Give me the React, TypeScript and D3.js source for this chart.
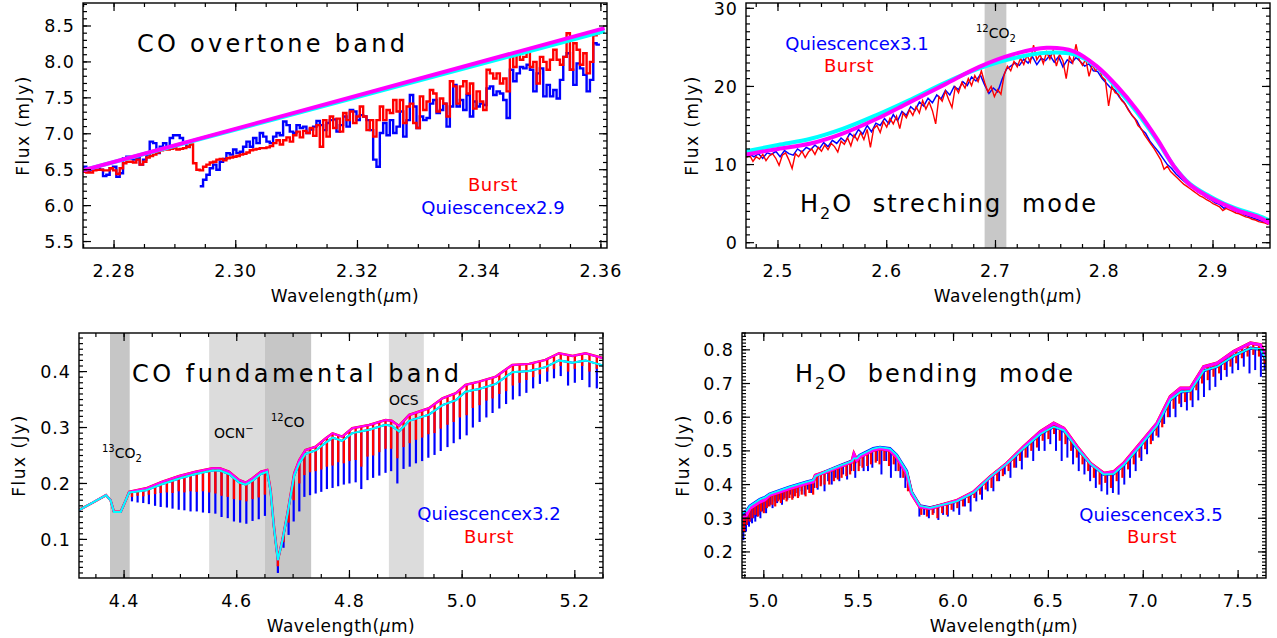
import React from "react";
import * as d3 from "d3";

const FONT = "'DejaVu Sans', sans-serif";
const RED = "#ff0000";
const BLUE = "#0000ff";
const CYAN = "#00ffff";
const MAGENTA = "#ff00ff";

// ---------------- Panel 1: CO overtone band (step spectra) ----------------
const p1BinStart = 2.2749;
const p1BinWidth = 0.000548;
const p1Quiescence: (number | null)[] = [
  6.54, 6.47, 6.5, 6.5, 6.54, 6.5, 6.41, 6.43, 6.52, 6.54,
  6.4, 6.45, 6.66, 6.68, 6.65, 6.64, 6.66, 6.57, 6.64, 6.71,
  6.89, 6.87, 6.73, 6.82, 6.87, 6.8, 6.94, 6.98, 6.98, 6.94,
  6.87, 6.82, 6.8, null, null, 6.27, 6.36, 6.43, 6.52, 6.57,
  6.5, 6.61, 6.65, 6.73, 6.71, 6.78, 6.73, 6.75, 6.82, 6.89,
  6.82, 6.94, 6.87, 7.01, 6.96, 6.89, 6.87, 6.96, 7.01, 6.98,
  7.17, 7.12, 7.03, 7.01, 7.12, 7.08, 7.1, 7.01, 7.06, 7.1,
  7.18, 7.12, 7.05, 7.15, 7.19, 7.2, 7.03, 7.12,
  7.24, 7.1, 7.33, 7.31, 7.19, 7.26, 7.24, 7.19, 7.05, 6.64,
  6.54, 7.01, 7.15, 6.98, 7.19, 7.01, 7.1, 7.31, 6.96, 7.19,
  7.54, 7.38, 7.08, 7.24, 7.19, 7.22, 7.42, 7.47, 7.29, 7.33,
  7.42, 7.1, 7.38, 7.68, 7.38, 7.47, 7.33, 7.54, 7.24, 7.45,
  7.38, 7.42, 7.4, 7.63, 7.66, 7.54, 7.59, 7.56, 7.47, 7.22,
  7.89, 7.73, 7.84, 7.93, 7.91, 7.96, 7.89, 7.59, 7.84, 7.91,
  7.52, 7.68, 7.52, 7.61, 7.49, 7.75, 8.07, 8.12, 7.89, 7.68,
  7.98, 7.91, 7.82, 7.59, 7.75, 8.26, 8.24,
];
const p1Burst: number[] = [
  6.47, 6.46, 6.46, 6.49, 6.5, 6.5, 6.49, 6.49, 6.52, 6.49,
  6.44, 6.52, 6.59, 6.61, 6.61, 6.6, 6.64, 6.57, 6.61, 6.67,
  6.69, 6.71, 6.74, 6.77, 6.79, 6.78, 6.79, 6.8, 6.78, 6.79,
  6.8, 6.82, 6.85, 6.59, 6.5, 6.49, 6.54, 6.57, 6.6, 6.61,
  6.64, 6.65, 6.63, 6.66, 6.67, 6.68, 6.69, 6.71, 6.72, 6.74,
  6.77, 6.78, 6.79, 6.8, 6.8, 6.81, 6.83, 6.87, 6.91, 6.85,
  6.91, 6.95, 6.89, 6.98, 7.03, 6.95, 7.04, 7.01, 7.08, 6.97,
  7.12, 6.82, 7.19, 6.96, 7.24, 7.08, 7.21, 7.03,
  7.29, 7.19, 7.31, 7.15, 7.24, 7.38, 7.24, 7.05, 7.19, 6.96,
  7.19, 7.38, 7.19, 7.33, 7.29, 7.47, 7.31, 7.47, 7.15, 7.38,
  7.42, 7.15, 7.08, 7.52, 7.33, 7.45, 7.61, 7.56, 7.31, 7.49,
  7.42, 7.24, 7.73, 7.66, 7.42, 7.66, 7.73, 7.56, 7.7, 7.35,
  7.59, 7.45, 7.33, 7.89, 7.84, 7.77, 7.84, 7.7, 7.77, 7.59,
  8.07, 7.93, 8.12, 8.03, 8.07, 8.14, 7.93, 8.0, 7.7, 8.07,
  8.0, 7.89, 8.03, 8.17, 8.03, 7.96, 8.07, 8.4, 7.89, 8.26,
  8.17, 7.96, 8.12, 7.84, 8.0, 8.37, 8.4,
];
const p1ContWl = [2.2749, 2.3606];
const p1ContCyan = [6.49, 8.43];
const p1ContMagenta = [6.49, 8.47];
const p1XTicks = [2.28, 2.3, 2.32, 2.34, 2.36];
const p1XLabels = ["2.28", "2.30", "2.32", "2.34", "2.36"];
const p1YTicks = [5.5, 6.0, 6.5, 7.0, 7.5, 8.0, 8.5];
const p1YLabels = ["5.5", "6.0", "6.5", "7.0", "7.5", "8.0", "8.5"];

// ---------------- Panel 2: H2O stretching mode ----------------
const p2BurstStart = 2.471;
const p2BurstStep = 0.003;
const p2QuiesStart = 2.474;
const p2QuiesStep = 0.004;
const p2Burst = [
  10.9, 11.2, 10.4, 11.0, 10.7, 11.3, 10.5, 11.1, 11.4, 10.8,
  9.9, 11.2, 11.5, 10.6, 9.5, 11.4, 11.0, 11.7, 10.9, 11.6,
  12.0, 11.3, 12.2, 11.7, 12.5, 11.9, 12.7, 12.3, 11.6, 13.0,
  12.6, 13.4, 12.4, 13.8, 13.1, 14.1, 13.2, 14.5, 12.2, 14.6,
  15.0, 14.1, 15.5, 14.8, 15.9, 15.2, 16.2, 14.6, 16.6, 16.0,
  17.0, 16.3, 17.4, 16.6, 18.2, 17.1, 18.0, 16.9, 15.2, 18.7,
  18.1, 19.4, 18.3, 17.3, 19.9, 19.2, 20.5, 19.8, 21.0, 20.1,
  21.4, 20.6, 22.0, 20.5, 19.3, 20.0, 18.7, 19.6, 19.0, 21.5,
  22.6, 22.0, 23.2, 22.5, 23.6, 22.8, 24.0, 23.1, 25.3, 23.4,
  24.1, 22.9, 24.4, 23.5, 24.6, 22.6, 24.1, 23.3, 21.0, 23.8,
  23.0, 25.4, 23.4, 22.7, 23.5, 21.3, 22.8, 22.0, 22.4, 21.2,
  20.8, 17.5, 20.0, 19.2, 19.0, 18.2, 17.8, 17.0, 16.4, 15.9,
  15.0, 14.6, 13.8, 13.2, 12.6, 12.0, 11.3, 10.6, 9.4, 9.8,
  9.1, 8.7, 8.3, 7.9, 7.5, 7.2, 6.9, 6.6, 6.3, 6.0,
  5.8, 5.5, 5.3, 5.0, 4.8, 4.6, 4.1, 4.4, 4.2, 4.0,
  3.8, 3.7, 3.5, 3.3, 3.2, 3.0, 2.9, 2.7, 2.6, 2.5,
  2.3,
];
const p2Quiescence = [
  11.3, 11.0, 11.4, 10.8, 11.5, 11.3, 11.7, 11.0, 11.8, 11.4,
  11.2, 12.0, 11.6, 12.2, 11.9, 12.5, 12.0, 12.8, 12.3, 13.1,
  12.7, 13.4, 12.9, 14.0, 13.5, 14.5, 13.9, 15.0, 14.2, 15.3,
  15.0, 15.9, 15.2, 16.4, 15.6, 16.8, 16.3, 17.4, 16.9, 18.0,
  17.5, 18.5, 17.9, 18.9, 18.4, 19.5, 18.9, 20.0, 19.6, 20.6,
  20.1, 21.2, 20.7, 21.5, 20.2, 19.1, 19.8, 19.3, 20.9, 22.2,
  22.6, 23.0, 22.7, 23.5, 23.0, 23.8, 22.8, 23.6, 23.3, 24.0,
  23.1, 23.8, 22.5, 23.4, 23.0, 23.7, 23.2, 22.6, 22.9, 22.0,
  21.9, 21.0, 20.4, 19.8, 19.5, 18.6, 18.0, 17.1, 16.2, 15.6,
  14.5, 14.0, 13.0, 12.3, 11.6, 10.8, 10.0, 9.5, 8.8, 8.3,
  7.8, 7.3, 7.0, 6.5, 6.2, 5.8, 5.5, 5.1, 4.9, 4.4,
  4.6, 4.2, 4.0, 3.8, 3.5, 3.3, 3.1, 2.9, 2.7, 2.5,
];
const p2ContWl = [2.4706, 2.5, 2.53, 2.56, 2.59, 2.62, 2.654, 2.685, 2.716, 2.747, 2.772, 2.793, 2.812, 2.83, 2.849, 2.864, 2.879, 2.895, 2.91, 2.925, 2.941, 2.9524];
const p2ContMagenta = [11.3, 12.0, 12.7, 14.0, 15.8, 17.9, 20.3, 22.5, 24.1, 24.95, 24.5, 22.6, 20.0, 17.0, 13.2, 9.8, 7.4, 5.95, 4.9, 4.0, 3.3, 2.5];
const p2ContCyan = [11.7, 12.5, 13.3, 14.6, 16.3, 18.2, 20.5, 22.3, 23.6, 24.3, 24.1, 22.5, 19.7, 16.7, 13.0, 9.8, 7.5, 6.1, 5.0, 4.2, 3.5, 2.8];
const p2Band = [2.69, 2.71];
const p2XTicks = [2.5, 2.6, 2.7, 2.8, 2.9];
const p2XLabels = ["2.5", "2.6", "2.7", "2.8", "2.9"];
const p2YTicks = [0, 10, 20, 30];
const p2YLabels = ["0", "10", "20", "30"];

// ---------------- Panel 3: CO fundamental band ----------------
const p3ContWl = [4.32, 4.345, 4.368, 4.376, 4.382, 4.394, 4.403, 4.409, 4.42, 4.439, 4.468, 4.498, 4.527, 4.557, 4.57, 4.586, 4.604, 4.616, 4.628, 4.643, 4.654, 4.66, 4.666, 4.673, 4.681, 4.69, 4.702, 4.711, 4.722, 4.74, 4.758, 4.77, 4.787, 4.805, 4.835, 4.864, 4.875, 4.888, 4.906, 4.941, 4.965, 4.989, 5.006, 5.03, 5.06, 5.089, 5.119, 5.148, 5.172, 5.196, 5.219, 5.25];
const p3ContMagenta = [0.1525, 0.166, 0.1793, 0.17, 0.1494, 0.1494, 0.17, 0.1852, 0.1875, 0.1913, 0.2031, 0.2133, 0.221, 0.227, 0.227, 0.221, 0.2062, 0.2014, 0.2092, 0.221, 0.224, 0.1883, 0.1226, 0.063, 0.0988, 0.1465, 0.2181, 0.242, 0.2598, 0.2658, 0.2807, 0.2897, 0.2837, 0.2987, 0.3046, 0.3135, 0.312, 0.3028, 0.3225, 0.3344, 0.3523, 0.3613, 0.3762, 0.3821, 0.391, 0.412, 0.4138, 0.4209, 0.4329, 0.4281, 0.4329, 0.424];
const p3ContCyan = [0.1525, 0.166, 0.179, 0.17, 0.149, 0.149, 0.17, 0.184, 0.185, 0.188, 0.199, 0.209, 0.217, 0.223, 0.223, 0.217, 0.202, 0.198, 0.205, 0.217, 0.221, 0.186, 0.121, 0.063, 0.098, 0.145, 0.214, 0.236, 0.253, 0.259, 0.273, 0.282, 0.276, 0.29, 0.296, 0.305, 0.303, 0.293, 0.312, 0.323, 0.34, 0.349, 0.364, 0.369, 0.378, 0.399, 0.401, 0.408, 0.42, 0.416, 0.42, 0.411];
const p3LineWl = [
  4.414, 4.424, 4.434, 4.444, 4.455, 4.465, 4.476, 4.486, 4.497, 4.507, 4.518, 4.529, 4.54, 4.551, 4.562, 4.573, 4.584, 4.595, 4.606, 4.617, 4.628, 4.639, 4.65,
  4.673, 4.683, 4.692, 4.701, 4.711, 4.72, 4.73, 4.74, 4.75, 4.76, 4.77, 4.78, 4.79, 4.8, 4.811, 4.821, 4.832, 4.842, 4.853, 4.864, 4.874, 4.885, 4.896, 4.907, 4.918, 4.929, 4.94, 4.951, 4.962, 4.974, 4.985, 4.996, 5.008, 5.019, 5.031, 5.043, 5.054, 5.066, 5.078, 5.09, 5.102, 5.114, 5.126, 5.138, 5.151, 5.163, 5.175, 5.188, 5.2, 5.213, 5.226, 5.239,
];
const p3QuiesLineMin = [
  0.168, 0.166, 0.165, 0.163, 0.16, 0.158, 0.157, 0.155, 0.153, 0.152, 0.15, 0.15, 0.148, 0.147, 0.146, 0.14, 0.138, 0.132, 0.13, 0.128, 0.133, 0.136, 0.142,
  0.04, 0.085, 0.108, 0.132, 0.15, 0.176, 0.179, 0.182, 0.185, 0.19, 0.192, 0.195, 0.198, 0.2, 0.202, 0.19, 0.206, 0.21, 0.214, 0.219, 0.222, 0.2, 0.226, 0.23, 0.236, 0.24, 0.246, 0.251, 0.258, 0.265, 0.272, 0.279, 0.286, 0.3, 0.31, 0.318, 0.326, 0.334, 0.342, 0.35, 0.356, 0.362, 0.37, 0.378, 0.382, 0.388, 0.392, 0.375, 0.38, 0.385, 0.372, 0.37,
];
const p3BurstLineMin = [
  0.176, 0.178, 0.177, 0.18, 0.181, 0.183, 0.184, 0.183, 0.186, 0.184, 0.186, 0.185, 0.186, 0.184, 0.182, 0.178, 0.176, 0.172, 0.17, 0.168, 0.172, 0.175, 0.18,
  0.052, 0.095, 0.13, 0.17, 0.2, 0.215, 0.22, 0.222, 0.225, 0.23, 0.232, 0.238, 0.236, 0.24, 0.242, 0.23, 0.248, 0.25, 0.256, 0.262, 0.262, 0.245, 0.265, 0.272, 0.278, 0.282, 0.288, 0.29, 0.298, 0.305, 0.31, 0.318, 0.322, 0.335, 0.34, 0.348, 0.352, 0.36, 0.365, 0.375, 0.38, 0.385, 0.39, 0.395, 0.4, 0.405, 0.41, 0.4, 0.405, 0.41, 0.4, 0.405,
];
const p3DarkBands = [[4.375, 4.41], [4.65, 4.732]];
const p3LightBands = [[4.551, 4.65], [4.87, 4.932]];
const p3XTicks = [4.4, 4.6, 4.8, 5.0, 5.2];
const p3XLabels = ["4.4", "4.6", "4.8", "5.0", "5.2"];
const p3YTicks = [0.1, 0.2, 0.3, 0.4];
const p3YLabels = ["0.1", "0.2", "0.3", "0.4"];

// ---------------- Panel 4: H2O bending mode ----------------
const p4ContWl = [4.885, 4.909, 4.926, 4.979, 5.005, 5.03, 5.084, 5.137, 5.225, 5.26, 5.272, 5.331, 5.401, 5.465, 5.475, 5.49, 5.506, 5.577, 5.612, 5.664, 5.7, 5.753, 5.779, 5.823, 5.876, 6.016, 6.106, 6.194, 6.282, 6.37, 6.458, 6.528, 6.581, 6.651, 6.721, 6.792, 6.845, 6.897, 6.985, 7.073, 7.143, 7.196, 7.249, 7.319, 7.389, 7.477, 7.565, 7.618, 7.647];
const p4ContMagenta = [0.3, 0.309, 0.329, 0.348, 0.354, 0.368, 0.378, 0.388, 0.403, 0.408, 0.427, 0.438, 0.453, 0.468, 0.49, 0.472, 0.482, 0.502, 0.507, 0.502, 0.482, 0.433, 0.373, 0.334, 0.329, 0.352, 0.378, 0.423, 0.463, 0.512, 0.557, 0.582, 0.567, 0.512, 0.463, 0.433, 0.438, 0.463, 0.522, 0.582, 0.661, 0.686, 0.686, 0.75, 0.76, 0.795, 0.82, 0.815, 0.78];
const p4ContCyan = [0.315, 0.322, 0.336, 0.356, 0.362, 0.372, 0.383, 0.393, 0.408, 0.413, 0.425, 0.44, 0.456, 0.47, 0.478, 0.478, 0.487, 0.507, 0.511, 0.507, 0.488, 0.44, 0.378, 0.337, 0.331, 0.35, 0.376, 0.423, 0.462, 0.508, 0.55, 0.572, 0.561, 0.508, 0.462, 0.43, 0.432, 0.458, 0.515, 0.575, 0.652, 0.675, 0.678, 0.738, 0.75, 0.782, 0.805, 0.802, 0.77];
const p4QuiesDips: [number, number][] = [
  [4.892, 0.235], [4.899, 0.27], [4.906, 0.26], [4.914, 0.28], [4.922, 0.275], [4.93, 0.29], [4.938, 0.285], [4.946, 0.3], [4.955, 0.29], [4.964, 0.305],
  [4.973, 0.31], [4.982, 0.3], [4.992, 0.32], [5.002, 0.325], [5.012, 0.315], [5.022, 0.335], [5.034, 0.34], [5.046, 0.33], [5.058, 0.35], [5.07, 0.345],
  [5.083, 0.355], [5.096, 0.34], [5.11, 0.36], [5.124, 0.355], [5.138, 0.37], [5.153, 0.36], [5.168, 0.375], [5.183, 0.365], [5.199, 0.38], [5.215, 0.37],
  [5.232, 0.385], [5.249, 0.375], [5.266, 0.39], [5.284, 0.385], [5.302, 0.4], [5.32, 0.38], [5.339, 0.41], [5.358, 0.4], [5.378, 0.42], [5.398, 0.41],
  [5.418, 0.43], [5.439, 0.415], [5.46, 0.44], [5.482, 0.42], [5.504, 0.455], [5.526, 0.44], [5.549, 0.44], [5.572, 0.45], [5.596, 0.47], [5.62, 0.43],
  [5.645, 0.47], [5.67, 0.42], [5.695, 0.44], [5.72, 0.42], [5.746, 0.39], [5.82, 0.305], [5.845, 0.31], [5.87, 0.3], [5.895, 0.315], [5.92, 0.295],
  [5.945, 0.31], [5.97, 0.305], [6.0, 0.32], [6.03, 0.31], [6.06, 0.335], [6.09, 0.32], [6.12, 0.35], [6.15, 0.355], [6.18, 0.38], [6.21, 0.38],
  [6.24, 0.41], [6.27, 0.43], [6.3, 0.42], [6.33, 0.45], [6.36, 0.445], [6.39, 0.48], [6.42, 0.47], [6.45, 0.5], [6.48, 0.5], [6.51, 0.52],
  [6.54, 0.5], [6.57, 0.47], [6.6, 0.48], [6.63, 0.46], [6.66, 0.44], [6.69, 0.43], [6.72, 0.41], [6.75, 0.39], [6.78, 0.38], [6.81, 0.37],
  [6.84, 0.375], [6.87, 0.37], [6.9, 0.4], [6.93, 0.42], [6.96, 0.44], [6.99, 0.47], [7.02, 0.49], [7.05, 0.53], [7.08, 0.54], [7.11, 0.58],
  [7.14, 0.6], [7.17, 0.6], [7.2, 0.63], [7.23, 0.62], [7.26, 0.63], [7.29, 0.65], [7.32, 0.66], [7.35, 0.68], [7.38, 0.69], [7.41, 0.71],
  [7.44, 0.72], [7.47, 0.73], [7.5, 0.74], [7.53, 0.75], [7.56, 0.73], [7.59, 0.74], [7.62, 0.72], [7.64, 0.74],
];
const p4BurstDips: [number, number][] = [
  [4.896, 0.26], [4.91, 0.28], [4.925, 0.29], [4.94, 0.3], [4.955, 0.31], [4.97, 0.305], [4.985, 0.32], [5.0, 0.315], [5.016, 0.33], [5.03, 0.335],
  [5.045, 0.34], [5.06, 0.335], [5.076, 0.35], [5.09, 0.345], [5.105, 0.355], [5.12, 0.35], [5.135, 0.36], [5.15, 0.355], [5.165, 0.365], [5.18, 0.36],
  [5.2, 0.37], [5.22, 0.365], [5.24, 0.375], [5.26, 0.37], [5.28, 0.39], [5.3, 0.395], [5.32, 0.4], [5.345, 0.4], [5.37, 0.41], [5.39, 0.415],
  [5.41, 0.42], [5.435, 0.425], [5.455, 0.43], [5.475, 0.44], [5.5, 0.44], [5.52, 0.45], [5.545, 0.455], [5.565, 0.46], [5.59, 0.465], [5.61, 0.46],
  [5.635, 0.47], [5.66, 0.455], [5.685, 0.46], [5.71, 0.44], [5.735, 0.42], [5.76, 0.38], [5.83, 0.31], [5.86, 0.305], [5.89, 0.31], [5.915, 0.3],
  [5.94, 0.315], [5.965, 0.31], [5.99, 0.325], [6.02, 0.33], [6.05, 0.335], [6.08, 0.345], [6.11, 0.36], [6.14, 0.37], [6.17, 0.385], [6.2, 0.39],
  [6.23, 0.41], [6.26, 0.425], [6.29, 0.44], [6.32, 0.45], [6.35, 0.47], [6.38, 0.48], [6.41, 0.5], [6.44, 0.51], [6.47, 0.53], [6.5, 0.535],
  [6.53, 0.55], [6.56, 0.53], [6.59, 0.52], [6.62, 0.5], [6.65, 0.48], [6.68, 0.46], [6.71, 0.44], [6.74, 0.42], [6.77, 0.4], [6.8, 0.405],
  [6.83, 0.39], [6.86, 0.41], [6.89, 0.42], [6.92, 0.445], [6.95, 0.46], [6.98, 0.48], [7.01, 0.505], [7.04, 0.52], [7.07, 0.545], [7.1, 0.57],
  [7.13, 0.6], [7.16, 0.625], [7.19, 0.64], [7.22, 0.645], [7.25, 0.65], [7.28, 0.68], [7.31, 0.7], [7.34, 0.71], [7.37, 0.72], [7.4, 0.73],
  [7.43, 0.74], [7.46, 0.75], [7.49, 0.76], [7.52, 0.775], [7.55, 0.78], [7.58, 0.785], [7.61, 0.78], [7.64, 0.76],
];
const p4XTicks = [5.0, 5.5, 6.0, 6.5, 7.0, 7.5];
const p4XLabels = ["5.0", "5.5", "6.0", "6.5", "7.0", "7.5"];
const p4YTicks = [0.2, 0.3, 0.4, 0.5, 0.6, 0.7, 0.8];
const p4YLabels = ["0.2", "0.3", "0.4", "0.5", "0.6", "0.7", "0.8"];

type Scale = d3.ScaleLinear<number, number>;

function minorTicks(d0: number, d1: number, step: number): number[] {
  const a = Math.ceil(Math.min(d0, d1) / step - 1e-6);
  const b = Math.floor(Math.max(d0, d1) / step + 1e-6);
  return d3.range(a, b + 1).map((i) => i * step);
}

function Axes(props: {
  x: Scale; y: Scale;
  xTicks: number[]; xLabels: string[]; xMinor: number;
  yTicks: number[]; yLabels: string[]; yMinor: number;
  yTitle: string; yTitleX: number;
}) {
  const { x, y } = props;
  const [L, R] = x.range();
  const [B, T] = y.range();
  const [xd0, xd1] = x.domain();
  const [yd0, yd1] = y.domain();
  const xm = minorTicks(xd0, xd1, props.xMinor);
  const ym = minorTicks(yd0, yd1, props.yMinor);
  const MAJ = 8, MIN = 4;
  return (
    <g stroke="#000" strokeWidth={1.2}>
      <rect x={L} y={T} width={R - L} height={B - T} fill="none" strokeWidth={1.4} />
      {xm.map((v, i) => (
        <g key={"xm" + i}>
          <line x1={x(v)} x2={x(v)} y1={B} y2={B - MIN} />
          <line x1={x(v)} x2={x(v)} y1={T} y2={T + MIN} />
        </g>
      ))}
      {ym.map((v, i) => (
        <g key={"ym" + i}>
          <line x1={L} x2={L + MIN} y1={y(v)} y2={y(v)} />
          <line x1={R} x2={R - MIN} y1={y(v)} y2={y(v)} />
        </g>
      ))}
      {props.xTicks.map((v, i) => (
        <g key={"xM" + i}>
          <line x1={x(v)} x2={x(v)} y1={B} y2={B - MAJ} />
          <line x1={x(v)} x2={x(v)} y1={T} y2={T + MAJ} />
          <text x={x(v)} y={B + 29} textAnchor="middle" stroke="none" fill="#000" fontSize={17.5} fontFamily={FONT} letterSpacing={1}>
            {props.xLabels[i]}
          </text>
        </g>
      ))}
      {props.yTicks.map((v, i) => (
        <g key={"yM" + i}>
          <line x1={L} x2={L + MAJ} y1={y(v)} y2={y(v)} />
          <line x1={R} x2={R - MAJ} y1={y(v)} y2={y(v)} />
          <text x={L - 8} y={y(v) + 6.5} textAnchor="end" stroke="none" fill="#000" fontSize={17.5} fontFamily={FONT} letterSpacing={1}>
            {props.yLabels[i]}
          </text>
        </g>
      ))}
      <text x={(L + R) / 2} y={B + 54} textAnchor="middle" stroke="none" fill="#000" fontSize={17} fontFamily={FONT} letterSpacing={0.5}>
        Wavelength(<tspan fontStyle="italic">μ</tspan>m)
      </text>
      <text transform={`translate(${props.yTitleX},${(T + B) / 2}) rotate(-90)`} textAnchor="middle" stroke="none" fill="#000" fontSize={17} fontFamily={FONT} letterSpacing={1.5}>
        {props.yTitle}
      </text>
    </g>
  );
}

function Panel1() {
  const x = d3.scaleLinear().domain([2.2749, 2.361]).range([83, 607]);
  const y = d3.scaleLinear().domain([5.41, 8.82]).range([248, 3]);
  const toSteps = (vals: (number | null)[]) => {
    const pts: [number, number | null][] = vals.map((v, i) => [p1BinStart + i * p1BinWidth, v]);
    pts.push([p1BinStart + vals.length * p1BinWidth, vals[vals.length - 1]]);
    return pts;
  };
  const stepLine = d3.line<[number, number | null]>()
    .defined((d) => d[1] != null)
    .x((d) => x(d[0]))
    .y((d) => y(d[1] as number))
    .curve(d3.curveStepAfter);
  const cont = (vals: number[]) =>
    d3.line<number>().x((_, i) => x(p1ContWl[i])).y((d) => y(d))(vals) || "";
  return (
    <g>
      <defs>
        <clipPath id="clip1"><rect x={83} y={3} width={524} height={245} /></clipPath>
      </defs>
      <g clipPath="url(#clip1)" fill="none">
        <path d={stepLine(toSteps(p1Quiescence)) || ""} stroke={BLUE} strokeWidth={2.4} />
        <path d={stepLine(toSteps(p1Burst)) || ""} stroke={RED} strokeWidth={2.4} />
        <path d={cont(p1ContCyan)} stroke={CYAN} strokeWidth={4} />
        <path d={cont(p1ContMagenta)} stroke={MAGENTA} strokeWidth={4} />
      </g>
      <Axes x={x} y={y} xTicks={p1XTicks} xLabels={p1XLabels} xMinor={0.005} yTicks={p1YTicks} yLabels={p1YLabels} yMinor={0.1} yTitle="Flux (mJy)" yTitleX={29} />
      <text x={137} y={52} fontSize={24} fontFamily={FONT} textLength={268} lengthAdjust="spacing">CO overtone band</text>
      <text x={493} y={191} fontSize={18} fontFamily={FONT} fill={RED} textAnchor="middle" letterSpacing={0.5}>Burst</text>
      <text x={493} y={214} fontSize={18} fontFamily={FONT} fill={BLUE} textAnchor="middle">Quiescencex2.9</text>
    </g>
  );
}

function Panel2() {
  const x = d3.scaleLinear().domain([2.4706, 2.9524]).range([746, 1270]);
  const y = d3.scaleLinear().domain([-0.68, 30.68]).range([248, 3]);
  const series = (vals: number[], start: number, step: number) =>
    d3.line<number>().x((_, i) => x(start + i * step)).y((d) => y(d))(vals) || "";
  const cont = (vals: number[]) =>
    d3.line<number>().x((_, i) => x(p2ContWl[i])).y((d) => y(d)).curve(d3.curveCatmullRom)(vals) || "";
  return (
    <g>
      <defs>
        <clipPath id="clip2"><rect x={746} y={3} width={524} height={245} /></clipPath>
      </defs>
      <rect x={x(p2Band[0])} y={3} width={x(p2Band[1]) - x(p2Band[0])} height={245} fill="#c8c8c8" />
      <g clipPath="url(#clip2)" fill="none">
        <path d={series(p2Quiescence, p2QuiesStart, p2QuiesStep)} stroke={BLUE} strokeWidth={1.5} />
        <path d={series(p2Burst, p2BurstStart, p2BurstStep)} stroke={RED} strokeWidth={1.4} />
        <path d={cont(p2ContCyan)} stroke={CYAN} strokeWidth={4} />
        <path d={cont(p2ContMagenta)} stroke={MAGENTA} strokeWidth={4} />
      </g>
      <Axes x={x} y={y} xTicks={p2XTicks} xLabels={p2XLabels} xMinor={0.02} yTicks={p2YTicks} yLabels={p2YLabels} yMinor={1} yTitle="Flux (mJy)" yTitleX={698} />
      <text x={976} y={38} fontSize={14} fontFamily={FONT}>
        <tspan fontSize={10} dy={-6}>12</tspan><tspan dy={6}>CO</tspan><tspan fontSize={10} dy={4}>2</tspan>
      </text>
      <text x={857} y={50} fontSize={18} fontFamily={FONT} fill={BLUE} textAnchor="middle">Quiescencex3.1</text>
      <text x={849} y={72} fontSize={18} fontFamily={FONT} fill={RED} textAnchor="middle" letterSpacing={0.5}>Burst</text>
      <text x={800} y={212} fontSize={24} fontFamily={FONT} letterSpacing={2} wordSpacing={10}>
        H<tspan fontSize={16} dy={7}>2</tspan><tspan dy={-7}>O streching mode</tspan>
      </text>
    </g>
  );
}

function Panel3() {
  const x = d3.scaleLinear().domain([4.32, 5.25]).range([79, 603]);
  const y = d3.scaleLinear().domain([0.031, 0.469]).range([578, 333]);
  const cont = (vals: number[]) =>
    d3.line<number>().x((_, i) => x(p3ContWl[i])).y((d) => y(d))(vals) || "";
  const cyanAt = d3.scaleLinear().domain(p3ContWl).range(p3ContCyan);
  const magAt = d3.scaleLinear().domain(p3ContWl).range(p3ContMagenta);
  return (
    <g>
      <defs>
        <clipPath id="clip3"><rect x={79} y={333} width={524} height={245} /></clipPath>
      </defs>
      {p3LightBands.map((b, i) => (
        <rect key={"l" + i} x={x(b[0])} y={333} width={x(b[1]) - x(b[0])} height={245} fill="#dcdcdc" />
      ))}
      {p3DarkBands.map((b, i) => (
        <rect key={"d" + i} x={x(b[0])} y={333} width={x(b[1]) - x(b[0])} height={245} fill="#c6c6c6" />
      ))}
      <g clipPath="url(#clip3)" fill="none">
        <path d={cont(p3ContCyan)} stroke={BLUE} strokeWidth={2} />
        {p3LineWl.map((w, i) => (
          <line key={"b" + i} x1={x(w)} x2={x(w)} y1={y(cyanAt(w))} y2={y(p3QuiesLineMin[i])} stroke={BLUE} strokeWidth={2.2} />
        ))}
        <path d={cont(p3ContMagenta)} stroke={RED} strokeWidth={2.5} />
        {p3LineWl.map((w, i) => (
          <line key={"r" + i} x1={x(w)} x2={x(w)} y1={y(magAt(w))} y2={y(p3BurstLineMin[i])} stroke={RED} strokeWidth={2.4} />
        ))}
        <path d={cont(p3ContMagenta)} stroke={MAGENTA} strokeWidth={2} />
        <path d={cont(p3ContCyan)} stroke={CYAN} strokeWidth={2} />
      </g>
      <Axes x={x} y={y} xTicks={p3XTicks} xLabels={p3XLabels} xMinor={0.05} yTicks={p3YTicks} yLabels={p3YLabels} yMinor={0.01} yTitle="Flux (Jy)" yTitleX={25} />
      <text x={132} y={382} fontSize={24} fontFamily={FONT} textLength={327} lengthAdjust="spacing">CO fundamental band</text>
      <text x={102} y={458} fontSize={14} fontFamily={FONT}>
        <tspan fontSize={10} dy={-6}>13</tspan><tspan dy={6}>CO</tspan><tspan fontSize={10} dy={4}>2</tspan>
      </text>
      <text x={214} y={438} fontSize={14} fontFamily={FONT}>
        OCN<tspan fontSize={10} dy={-6}>−</tspan>
      </text>
      <text x={271} y={427} fontSize={14} fontFamily={FONT}>
        <tspan fontSize={10} dy={-6}>12</tspan><tspan dy={6}>CO</tspan>
      </text>
      <text x={389} y={405} fontSize={14} fontFamily={FONT}>OCS</text>
      <text x={489} y={520} fontSize={18} fontFamily={FONT} fill={BLUE} textAnchor="middle">Quiescencex3.2</text>
      <text x={489} y={543} fontSize={18} fontFamily={FONT} fill={RED} textAnchor="middle" letterSpacing={0.5}>Burst</text>
    </g>
  );
}

function Panel4() {
  const x = d3.scaleLinear().domain([4.885, 7.647]).range([742, 1266]);
  const y = d3.scaleLinear().domain([0.1226, 0.85]).range([578, 333]);
  const cont = (vals: number[]) =>
    d3.line<number>().x((_, i) => x(p4ContWl[i])).y((d) => y(d))(vals) || "";
  const cyanAt = d3.scaleLinear().domain(p4ContWl).range(p4ContCyan);
  const magAt = d3.scaleLinear().domain(p4ContWl).range(p4ContMagenta);
  return (
    <g>
      <defs>
        <clipPath id="clip4"><rect x={742} y={333} width={524} height={245} /></clipPath>
      </defs>
      <g clipPath="url(#clip4)" fill="none">
        <path d={cont(p4ContCyan)} stroke={BLUE} strokeWidth={3} />
        {p4QuiesDips.map((d, i) => (
          <line key={"b" + i} x1={x(d[0])} x2={x(d[0])} y1={y(cyanAt(d[0]))} y2={y(d[1])} stroke={BLUE} strokeWidth={2} />
        ))}
        <path d={cont(p4ContMagenta)} stroke={RED} strokeWidth={3.5} />
        {p4BurstDips.map((d, i) => (
          <line key={"r" + i} x1={x(d[0])} x2={x(d[0])} y1={y(magAt(d[0]))} y2={y(d[1])} stroke={RED} strokeWidth={2.2} />
        ))}
        <path d={cont(p4ContMagenta)} stroke={MAGENTA} strokeWidth={3} />
        <path d={cont(p4ContCyan)} stroke={CYAN} strokeWidth={1.8} />
      </g>
      <Axes x={x} y={y} xTicks={p4XTicks} xLabels={p4XLabels} xMinor={0.1} yTicks={p4YTicks} yLabels={p4YLabels} yMinor={0.01} yTitle="Flux (Jy)" yTitleX={689} />
      <text x={795} y={382} fontSize={24} fontFamily={FONT} letterSpacing={2} wordSpacing={10}>
        H<tspan fontSize={16} dy={7}>2</tspan><tspan dy={-7}>O bending mode</tspan>
      </text>
      <text x={1151} y={521} fontSize={18} fontFamily={FONT} fill={BLUE} textAnchor="middle">Quiescencex3.5</text>
      <text x={1152} y={543} fontSize={18} fontFamily={FONT} fill={RED} textAnchor="middle" letterSpacing={0.5}>Burst</text>
    </g>
  );
}

export default function App() {
  return (
    <svg width={1277} height={638} viewBox="0 0 1277 638" style={{ position: "absolute", left: 0, top: 0, background: "#fff" }} fontFamily={FONT}>
      <rect x={0} y={0} width={1277} height={638} fill="#fff" />
      <Panel1 />
      <Panel2 />
      <Panel3 />
      <Panel4 />
    </svg>
  );
}
